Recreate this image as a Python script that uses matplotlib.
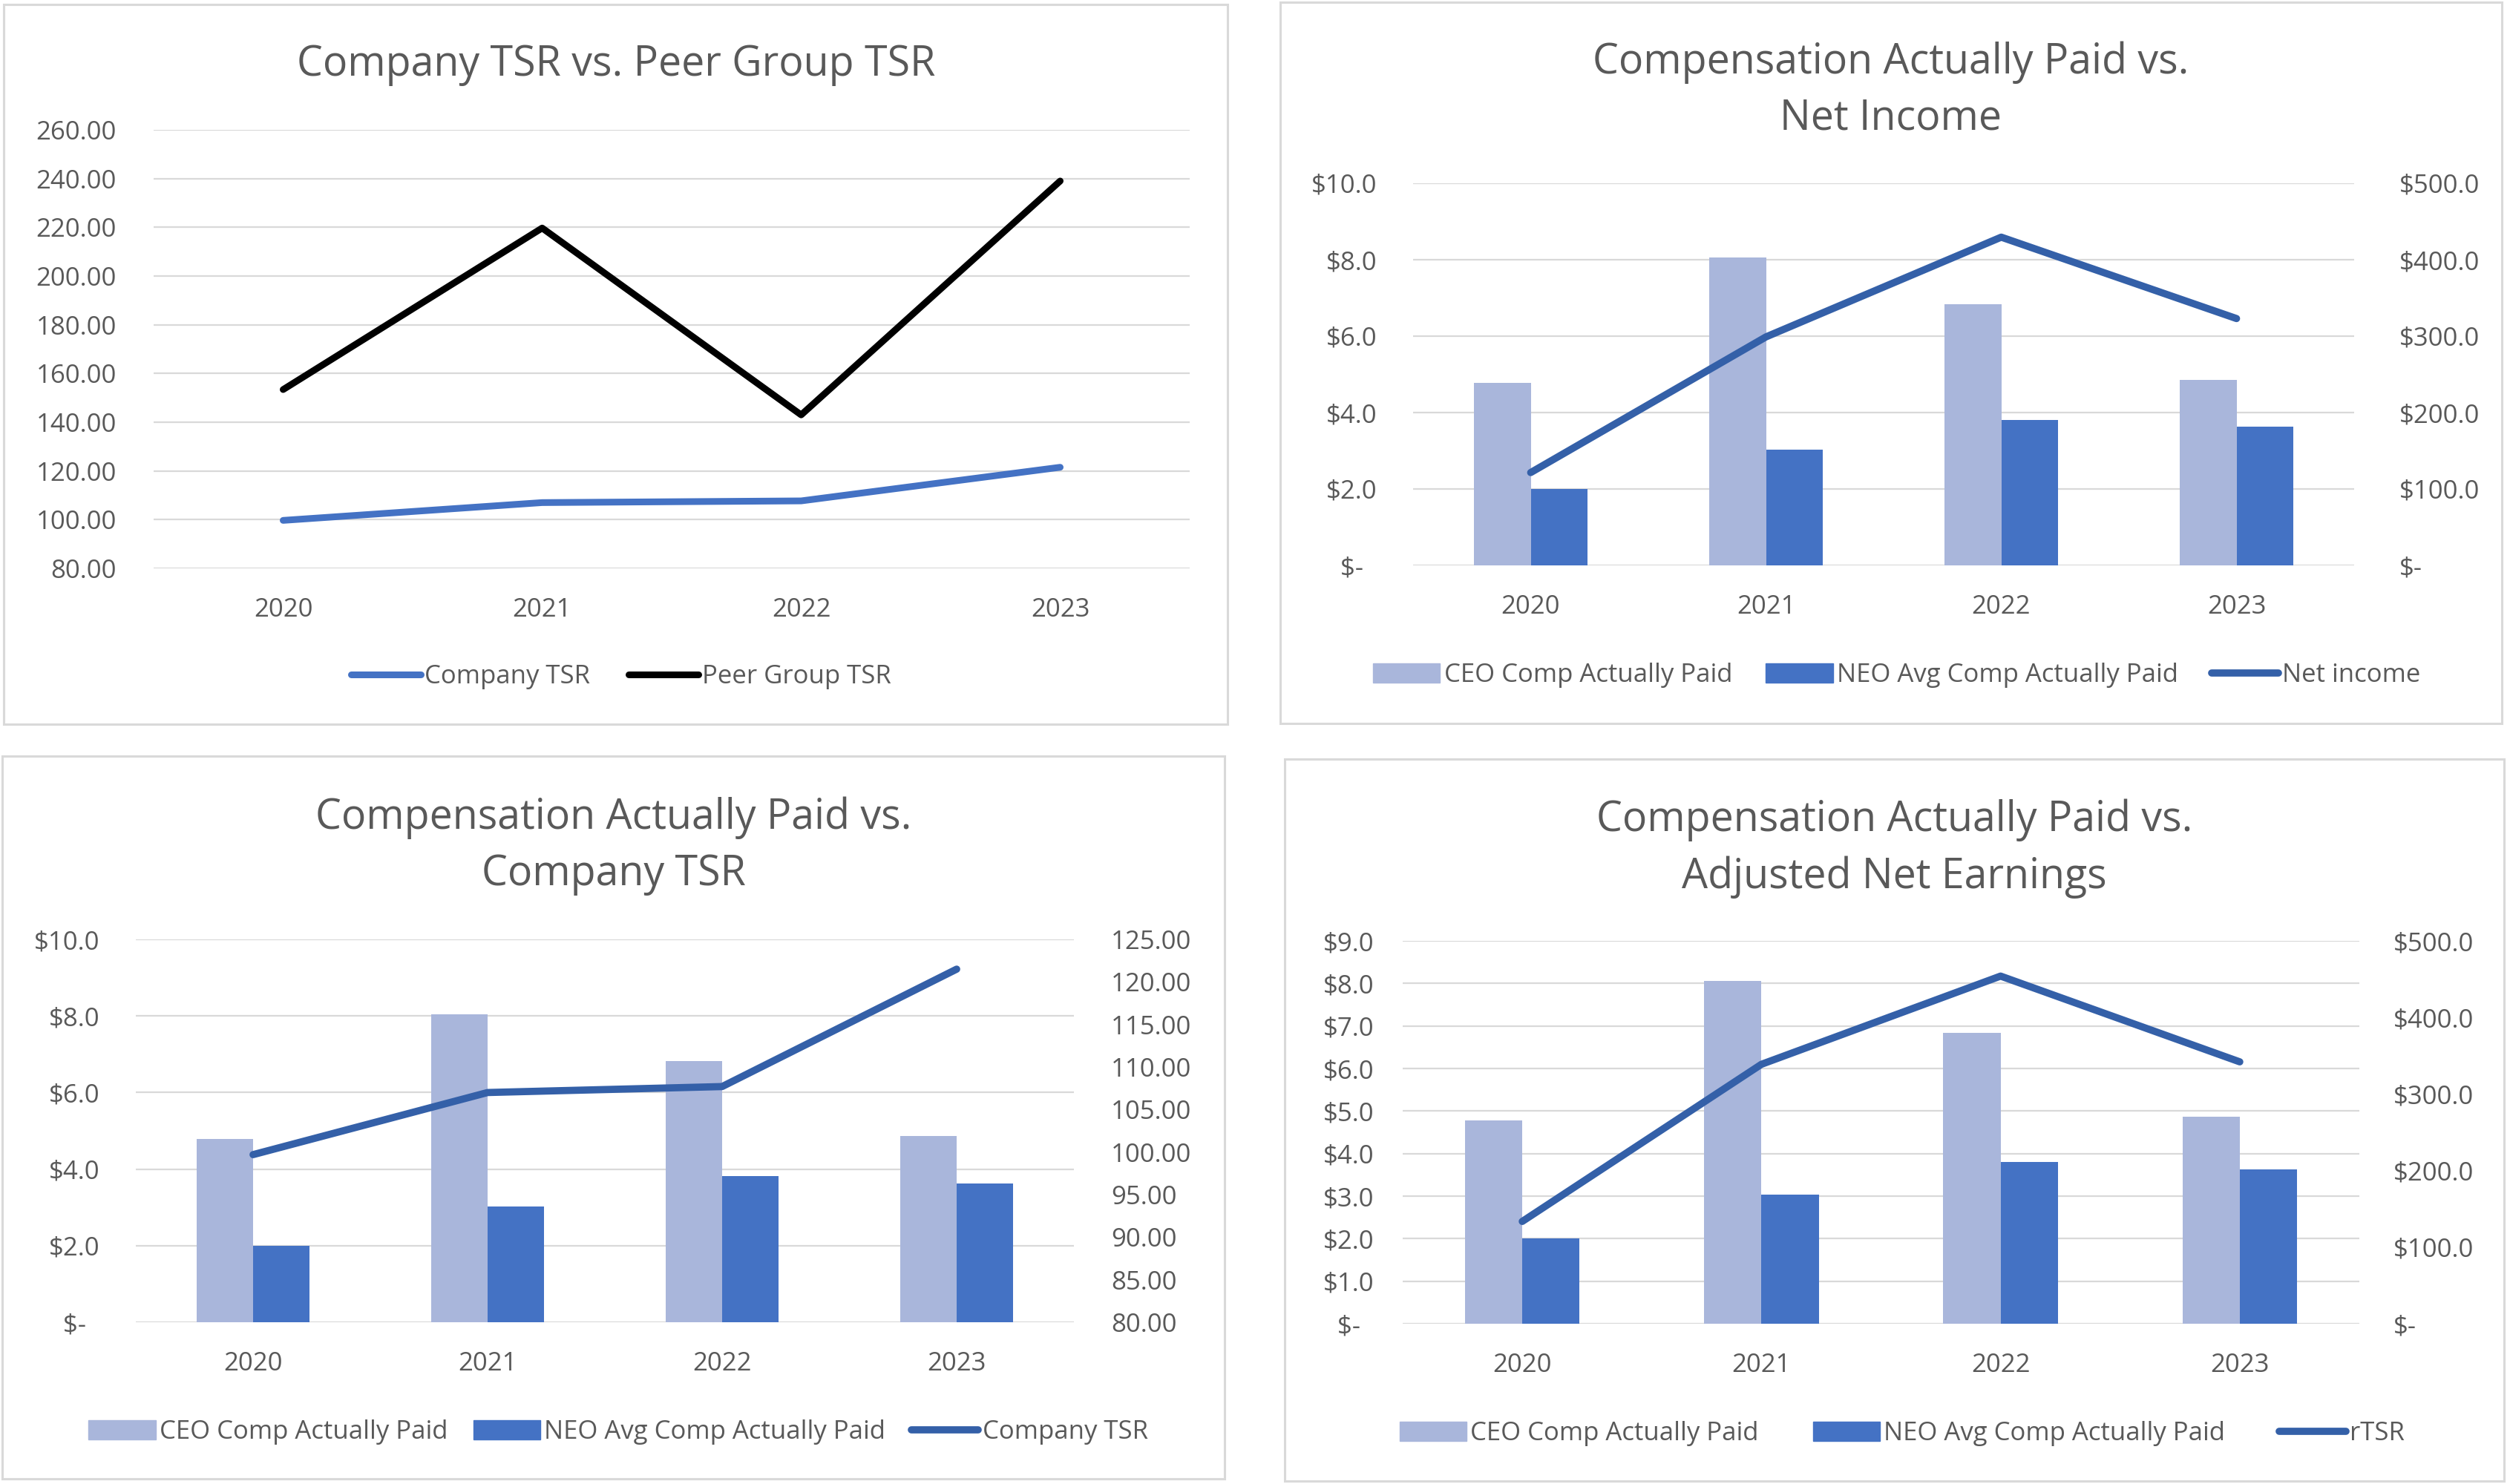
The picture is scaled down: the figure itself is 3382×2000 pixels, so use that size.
import matplotlib
matplotlib.use("Agg")
import matplotlib.pyplot as plt
from matplotlib.patches import Rectangle, Patch
from matplotlib.lines import Line2D

plt.rcParams['font.family'] = ['Open Sans', 'DejaVu Sans']

# data
years = ["2020", "2021", "2022", "2023"]
company_tsr = [99.7, 107.0, 107.7, 121.5]
peer_tsr = [153.4, 219.7, 143.0, 239.0]
ceo_cap = [4.78, 8.05, 6.83, 4.86]
neo_cap = [2.00, 3.03, 3.81, 3.63]
net_income = [121.5, 299.0, 429.5, 323.0]
adj_net_earnings = [133.6, 338.8, 454.0, 342.0]

TXT = "#595959"
GRID = "#D9D9D9"
CEO_C = "#A9B6DB"
NEO_C = "#4472C4"
LINE_C = "#3460A8"
W, H = 3382, 2000
FS = 25
TFS = 40

fig = plt.figure(figsize=(W / 100, H / 100), dpi=100)
fig.patch.set_facecolor("white")


def px_axes(left, top, right, bottom):
    return fig.add_axes([left / W, 1 - bottom / H, (right - left) / W, (bottom - top) / H])


def panel_box(x0, y0, x1, y1):
    fig.patches.append(Rectangle((x0 / W, 1 - y1 / H), (x1 - x0) / W, (y1 - y0) / H,
                                 transform=fig.transFigure, fill=False,
                                 edgecolor=GRID, linewidth=2.2))


def money(v):
    return "$-  " if v == 0 else f"${v:.1f}"


def money_r(v):
    return "$-" if v == 0 else f"${v:.1f}"


def style(ax, ticks, labels, pad_left):
    ax.set_xlim(-0.5, 3.5)
    ax.set_xticks(range(len(years)))
    ax.set_xticklabels(years)
    ax.set_yticks(ticks)
    ax.set_yticklabels(labels)
    ax.set_ylim(ticks[0], ticks[-1])
    ax.grid(axis="y", color=GRID, linewidth=1.6)
    ax.set_axisbelow(True)
    for s in ax.spines.values():
        s.set_visible(False)
    ax.tick_params(axis="y", length=0, labelsize=FS, labelcolor=TXT, pad=pad_left)
    ax.tick_params(axis="x", length=0, labelsize=FS, labelcolor=TXT, pad=28)


def style_right(ax2, ticks, labels, pad):
    ax2.set_ylim(ticks[0], ticks[-1])
    ax2.set_yticks(ticks)
    ax2.set_yticklabels(labels)
    for s in ax2.spines.values():
        s.set_visible(False)
    ax2.tick_params(axis="y", length=0, labelsize=FS, labelcolor=TXT, pad=pad)


def legend(ax, handles, labels, cx, cy, colsp, hlen):
    ax.legend(handles, labels, loc="center", bbox_to_anchor=(cx / W, 1 - cy / H),
              bbox_transform=fig.transFigure, ncol=len(handles), frameon=False,
              fontsize=FS, labelcolor=TXT, handlelength=hlen, handletextpad=0.15,
              columnspacing=colsp, handleheight=0.75)


x = list(range(len(years)))
bw = 0.24

# ---- panel 1: Company TSR vs Peer Group TSR
panel_box(5, 6, 1654, 976)
ax1 = px_axes(207, 175, 1603, 766)
style(ax1, [80, 100, 120, 140, 160, 180, 200, 220, 240, 260],
      [f"{v:.2f}" for v in range(80, 261, 20)], 36)
l1, = ax1.plot(x, company_tsr, color=NEO_C, lw=6.5, solid_capstyle="round")
l2, = ax1.plot(x, peer_tsr, color="black", lw=6.5, solid_capstyle="round")
fig.text(830 / W, 1 - 87 / H, "Company TSR vs. Peer Group TSR", ha="center", va="center",
         fontsize=TFS, color=TXT)
legend(ax1, [l1, l2], ["Company TSR", "Peer Group TSR"], 837, 912, 1.5, 2.7)


def comp_panel(box, rect, title, tcy, ticks_l, labels_l, padl, line_vals, ticks_r, labels_r,
               padr, line_label, leg_c, colsp):
    panel_box(*box)
    ax = px_axes(*rect)
    style(ax, ticks_l, labels_l, padl)
    ax.bar([i - bw / 2 for i in x], ceo_cap, width=bw, color=CEO_C)
    ax.bar([i + bw / 2 for i in x], neo_cap, width=bw, color=NEO_C)
    ax2 = ax.twinx()
    style_right(ax2, ticks_r, labels_r, padr)
    ax2.plot(x, line_vals, color=LINE_C, lw=7, solid_capstyle="round")
    fig.text((box[0] + box[2]) / 2 / W, 1 - tcy / H, title, ha="center", va="center",
             fontsize=TFS, color=TXT, linespacing=1.45)
    h_patch1 = Patch(color=CEO_C)
    h_patch2 = Patch(color=NEO_C)
    h_line = Line2D([], [], color=LINE_C, lw=7, solid_capstyle="round")
    legend(ax2, [h_patch1, h_patch2, h_line],
           ["CEO Comp Actually Paid", "NEO Avg Comp Actually Paid", line_label],
           leg_c[0], leg_c[1], colsp, 2.6)
    return ax, ax2


# ---- panel 2: CAP vs Net Income
comp_panel((1725, 3, 3371, 975), (1904, 247, 3172, 762),
           "Compensation Actually Paid vs.\nNet Income", 122,
           [0, 2, 4, 6, 8, 10], [money(v) for v in [0, 2, 4, 6, 8, 10]], 35,
           net_income, [0, 100, 200, 300, 400, 500],
           [money_r(v) for v in [0, 100, 200, 300, 400, 500]], 44,
           "Net income", (2556, 910), 1.3)

# ---- panel 3: CAP vs Company TSR
comp_panel((3, 1019, 1650, 1993), (183, 1266, 1447, 1782),
           "Compensation Actually Paid vs.\nCompany TSR", 1140,
           [0, 2, 4, 6, 8, 10], [money(v) for v in [0, 2, 4, 6, 8, 10]], 35,
           company_tsr, list(range(80, 126, 5)),
           [f"{v:.2f}" for v in range(80, 126, 5)], 36,
           "Company TSR", (833, 1930), 1.0)

# ---- panel 4: CAP vs Adjusted Net Earnings
comp_panel((1731, 1023, 3374, 1996), (1890, 1268, 3179, 1784),
           "Compensation Actually Paid vs.\nAdjusted Net Earnings", 1144,
           list(range(0, 10)), [money(v) for v in range(0, 10)], 28,
           adj_net_earnings, [0, 100, 200, 300, 400, 500],
           [money_r(v) for v in [0, 100, 200, 300, 400, 500]], 33,
           "rTSR", (2563, 1932), 2.1)

fig.savefig("out.png", dpi=100, facecolor="white")
